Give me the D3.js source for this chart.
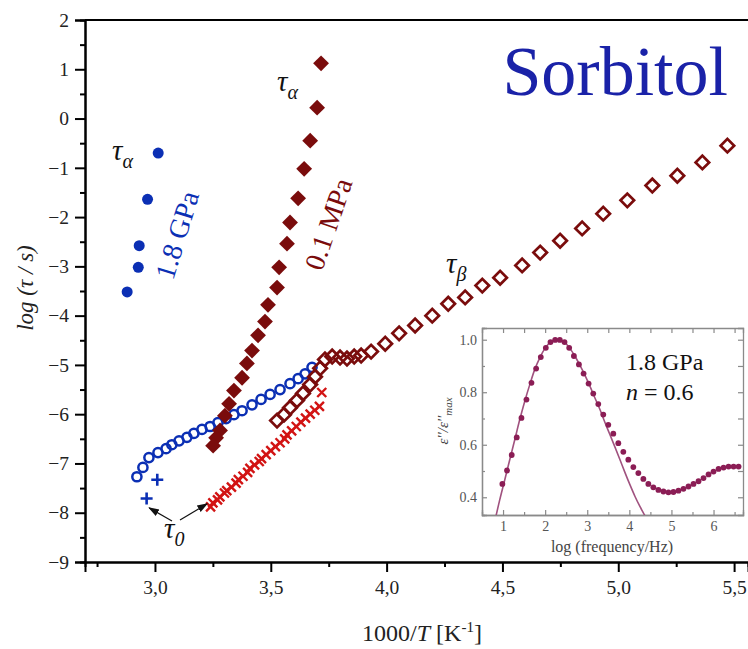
<!DOCTYPE html>
<html><head><meta charset="utf-8">
<script src="https://cdn.jsdelivr.net/npm/d3@7/dist/d3.min.js"></script>
<style>body{margin:0;background:#fff}svg{display:block}text{font-family:"Liberation Serif","Times New Roman",serif}</style>
</head><body><svg id="c" width="748" height="649"></svg>
<script>
// ---- data (x = 1000/T, y = log(tau/s)) ----
const blueAlphaX = [3.014, 2.968, 2.932, 2.928, 2.880];
const blueAlphaY = [-0.70, -1.64, -2.58, -3.02, -3.52];
const blueBetaX = [2.922,2.948,2.974,3.013,3.048,3.073,3.104,3.138,3.168,3.203,3.238,3.272,3.307,3.341,3.376,3.419,3.458,3.497,3.540,3.583,3.618,3.648,3.678];
const blueBetaY = [-7.27,-7.08,-6.88,-6.78,-6.70,-6.62,-6.54,-6.47,-6.39,-6.31,-6.25,-6.17,-6.09,-6.01,-5.93,-5.81,-5.70,-5.60,-5.50,-5.38,-5.28,-5.18,-5.05];
const blueTau0X = [3.010, 2.964];
const blueTau0Y = [-7.33, -7.71];
const redAlphaX = [3.717,3.700,3.670,3.644,3.618,3.583,3.570,3.536,3.527,3.488,3.475,3.445,3.419,3.397,3.376,3.341,3.320,3.302,3.281,3.264,3.251];
const redAlphaY = [1.12,0.22,-0.45,-1.02,-1.62,-2.11,-2.54,-3.02,-3.43,-3.78,-4.12,-4.40,-4.71,-4.97,-5.26,-5.52,-5.79,-6.03,-6.33,-6.48,-6.64];
const redBetaX = [3.527,3.557,3.583,3.613,3.639,3.670,3.691,3.713,3.734,3.765,3.799,3.829,3.860,3.890,3.933,3.994,4.054,4.123,4.197,4.266,4.339,4.413,4.490,4.585,4.663,4.749,4.844,4.935,5.039,5.147,5.255,5.363,5.471];
const redBetaY = [-6.13,-6.01,-5.87,-5.72,-5.58,-5.40,-5.24,-5.07,-4.89,-4.83,-4.85,-4.87,-4.83,-4.81,-4.73,-4.57,-4.36,-4.20,-4.00,-3.76,-3.63,-3.39,-3.23,-2.98,-2.72,-2.48,-2.23,-1.93,-1.66,-1.36,-1.16,-0.89,-0.55];
const redTau0X = [3.24,3.25,3.27,3.28,3.30,3.31,3.33,3.35,3.36,3.38,3.40,3.41,3.43,3.45,3.46,3.48,3.50,3.52,3.54,3.56,3.57,3.59,3.61,3.63,3.65,3.67,3.69,3.71,3.72];
const redTau0Y = [-7.88,-7.80,-7.74,-7.68,-7.60,-7.55,-7.48,-7.40,-7.33,-7.26,-7.18,-7.10,-7.03,-6.96,-6.90,-6.82,-6.74,-6.66,-6.58,-6.50,-6.42,-6.34,-6.25,-6.16,-6.08,-6.00,-5.92,-5.84,-5.56];
const xTicks = [3.0, 3.5, 4.0, 4.5, 5.0, 5.5];
const yTicks = [-9,-8,-7,-6,-5,-4,-3,-2,-1,0,1,2];
// inset: log(frequency/Hz) vs eps''/eps''max
const insDotX = [0.984,1.095,1.206,1.325,1.437,1.556,1.675,1.786,1.897,2.016,2.127,2.238,2.349,2.460,2.571,2.683,2.802,2.913,3.032,3.143,3.262,3.381,3.500,3.619,3.738,3.857,3.976,4.095,4.214,4.333,4.452,4.571,4.690,4.810,4.929,5.048,5.167,5.286,5.405,5.524,5.643,5.762,5.881,6.000,6.119,6.238,6.357,6.476,6.595];
const insDotY = [0.451,0.502,0.561,0.628,0.702,0.772,0.836,0.890,0.934,0.969,0.991,0.999,0.999,0.991,0.969,0.938,0.906,0.871,0.833,0.795,0.755,0.715,0.676,0.642,0.606,0.573,0.543,0.515,0.492,0.470,0.451,0.438,0.428,0.422,0.419,0.420,0.425,0.432,0.441,0.451,0.461,0.473,0.487,0.498,0.508,0.513,0.517,0.517,0.517];
const insFitX = [0.802,0.921,1.040,1.159,1.278,1.397,1.516,1.635,1.754,1.873,1.992,2.111,2.230,2.349,2.468,2.587,2.706,2.825,2.944,3.063,3.183,3.302,3.421,3.540,3.659,3.778,3.897,4.016,4.135,4.254,4.373,4.492];
const insFitY = [0.307,0.390,0.466,0.543,0.619,0.696,0.766,0.829,0.887,0.931,0.966,0.989,0.999,0.999,0.989,0.967,0.938,0.903,0.865,0.823,0.778,0.734,0.685,0.638,0.591,0.543,0.494,0.447,0.403,0.364,0.329,0.294];
const insXTicks = [1,2,3,4,5,6];
const insYTicks = [0.4,0.6,0.8,1.0];

// ---- main chart ----
const svg = d3.select("#c");
const x = d3.scaleLinear().domain([2.698, 5.56]).range([85, 748]);
const y = d3.scaleLinear().domain([-9, 2]).range([562, 20]);
const BLUE = "#0b2fb4", DRED = "#7a0c0c", RED = "#d21414";
const minus = s => s.replace("-", "\u2212");

// minor ticks
const gx = svg.append("g").attr("transform", "translate(0,562)");
gx.call(d3.axisBottom(x).tickValues(d3.range(2.75, 5.5, 0.5)).tickSize(5).tickFormat(""));
gx.append("g").call(d3.axisBottom(x).tickValues(xTicks).tickSize(10).tickPadding(8).tickFormat(d => d3.format(".1f")(d).replace(".", ",")));
const gy = svg.append("g").attr("transform", "translate(85,0)");
gy.call(d3.axisLeft(y).tickValues(d3.range(-8.5, 2, 1)).tickSize(5).tickFormat(""));
gy.append("g").call(d3.axisLeft(y).tickValues(yTicks).tickSize(10).tickPadding(6).tickFormat(d => minus(String(d))));
svg.selectAll(".domain").attr("stroke", "#000").attr("stroke-width", 2);
svg.selectAll(".tick line").attr("stroke", "#000").attr("stroke-width", 2);
svg.selectAll(".tick text").attr("font-size", 19.5).attr("fill", "#222").style("font-family", '"Liberation Serif",serif');
svg.append("line").attr("x1", 85).attr("x2", 748).attr("y1", y(2)).attr("y2", y(2)).attr("stroke", "#000").attr("stroke-width", 2);

// axis titles
const xt = svg.append("text").attr("x", 422).attr("y", 641).attr("text-anchor", "middle").attr("font-size", 24).attr("fill", "#222");
xt.append("tspan").text("1000/");
xt.append("tspan").attr("font-style", "italic").text("T");
xt.append("tspan").text(" [K");
xt.append("tspan").attr("dy", -9).attr("font-size", 15).text("-1");
xt.append("tspan").attr("dy", 9).text("]");
svg.append("text").attr("transform", "translate(33,288) rotate(-90)").attr("text-anchor", "middle")
  .attr("font-size", 23).attr("font-style", "italic").attr("fill", "#222").text("log (τ / s)");

const zip = (a, b) => a.map((v, i) => [v, b[i]]);
// open circles beta 1.8 GPa
svg.append("g").selectAll("circle").data(zip(blueBetaX, blueBetaY)).join("circle")
  .attr("cx", d => x(d[0])).attr("cy", d => y(d[1])).attr("r", 4.6)
  .attr("fill", "none").attr("stroke", BLUE).attr("stroke-width", 2.5);
// filled circles alpha 1.8 GPa
svg.append("g").selectAll("circle").data(zip(blueAlphaX, blueAlphaY)).join("circle")
  .attr("cx", d => x(d[0])).attr("cy", d => y(d[1])).attr("r", 5.5).attr("fill", BLUE);
// plus tau0 1.8 GPa
svg.append("g").selectAll("path").data(zip(blueTau0X, blueTau0Y)).join("path")
  .attr("transform", d => `translate(${x(d[0])},${y(d[1])})`)
  .attr("d", "M-6,0H6M0,-6V6").attr("fill", "none").attr("stroke", BLUE).attr("stroke-width", 2.6);
// open diamonds beta 0.1 MPa
svg.append("g").selectAll("path").data(zip(redBetaX, redBetaY)).join("path")
  .attr("transform", d => `translate(${x(d[0])},${y(d[1])}) rotate(45)`)
  .attr("d", d3.symbol(d3.symbolSquare, 92)).attr("fill", "none").attr("stroke", DRED).attr("stroke-width", 2.7);
// crosses tau0 0.1 MPa
svg.append("g").selectAll("path").data(zip(redTau0X, redTau0Y)).join("path")
  .attr("transform", d => `translate(${x(d[0])},${y(d[1])})`)
  .attr("d", "M-4.5,-4.5L4.5,4.5M-4.5,4.5L4.5,-4.5").attr("fill", "none").attr("stroke", RED).attr("stroke-width", 2.4);
// filled diamonds alpha 0.1 MPa
svg.append("g").selectAll("path").data(zip(redAlphaX, redAlphaY)).join("path")
  .attr("transform", d => `translate(${x(d[0])},${y(d[1])}) rotate(45)`)
  .attr("d", d3.symbol(d3.symbolSquare, 125)).attr("fill", DRED);

// labels
function tau(xp, yp, sub) {
  const t = svg.append("text").attr("x", xp).attr("y", yp).attr("font-size", 29).attr("fill", "#111").attr("font-style", "italic");
  t.append("tspan").text("τ");
  t.append("tspan").attr("dy", 8).attr("font-size", 20).text(sub);
}
tau(112, 160, "α");
tau(277, 91, "α");
tau(446, 273, "β");
tau(164, 538, "0");
svg.append("defs").append("marker").attr("id", "ah").attr("viewBox", "0 0 10 10").attr("refX", 9).attr("refY", 5)
  .attr("markerWidth", 9).attr("markerHeight", 9).attr("orient", "auto-start-reverse")
  .append("path").attr("d", "M0,1.5 L10,5 L0,8.5 Z").attr("fill", "#111");
svg.append("line").attr("x1", 172).attr("y1", 521).attr("x2", x(2.975)).attr("y2", y(-7.78) + 6)
  .attr("stroke", "#111").attr("stroke-width", 1.2).attr("marker-end", "url(#ah)");
svg.append("line").attr("x1", 180).attr("y1", 520).attr("x2", x(3.225)).attr("y2", y(-7.82))
  .attr("stroke", "#111").attr("stroke-width", 1.2).attr("marker-end", "url(#ah)");
svg.append("text").attr("transform", "translate(173,281) rotate(-73)").attr("font-size", 28).attr("fill", BLUE).text("1.8 GPa");
svg.append("text").attr("transform", "translate(322,272) rotate(-71)").attr("font-size", 28).attr("fill", DRED).text("0.1 MPa");
svg.append("text").attr("x", 728).attr("y", 95).attr("text-anchor", "end").attr("font-size", 70).attr("fill", "#1a22a8").text("Sorbitol");

// ---- inset ----
const IL = 482, IR = 743, IT = 328, IB = 515;
const ix = d3.scaleLinear().domain([0.50, 6.70]).range([IL, IR]);
const iy = d3.scaleLinear().domain([0.3325, 1.0446]).range([IB, IT]);
const ins = svg.append("g");
ins.append("rect").attr("x", IL).attr("y", IT).attr("width", IR - IL).attr("height", IB - IT).attr("fill", "#fff");
ins.append("clipPath").attr("id", "ic").append("rect").attr("x", IL).attr("y", IT).attr("width", IR - IL).attr("height", IB - IT);
const GR = "#8a8a8a";
const ib = ins.append("g").attr("transform", `translate(0,${IB})`);
ib.call(d3.axisBottom(ix).tickValues(d3.range(1.5, 6.6, 1)).tickSize(-3).tickFormat(""));
ib.append("g").call(d3.axisBottom(ix).tickValues(insXTicks).tickSize(-5).tickPadding(6).tickFormat(d3.format("d")));
const it = ins.append("g").attr("transform", `translate(0,${IT})`);
it.call(d3.axisTop(ix).tickValues(d3.range(1, 6.6, 0.5)).tickSize(-5).tickFormat(""));
const il = ins.append("g").attr("transform", `translate(${IL},0)`);
il.call(d3.axisLeft(iy).tickValues([0.5, 0.7, 0.9]).tickSize(-3).tickFormat(""));
il.append("g").call(d3.axisLeft(iy).tickValues(insYTicks).tickSize(-5).tickPadding(5).tickFormat(d3.format(".1f")));
const ir = ins.append("g").attr("transform", `translate(${IR},0)`);
ir.call(d3.axisRight(iy).tickValues([0.4,0.5,0.6,0.7,0.8,0.9,1.0]).tickSize(-5).tickFormat(""));
ins.selectAll(".domain").attr("stroke", GR).attr("stroke-width", 1.3);
ins.selectAll(".tick line").attr("stroke", GR).attr("stroke-width", 1.2);
ins.selectAll(".tick text").attr("font-size", 14).attr("fill", "#555").style("font-family", '"Liberation Serif",serif');
ins.append("text").attr("x", 612).attr("y", 552).attr("text-anchor", "middle").attr("font-size", 16).attr("fill", "#444").text("log (frequency/Hz)");
const yl = ins.append("text").attr("transform", "translate(448,421) rotate(-90)").attr("text-anchor", "middle")
  .attr("font-size", 15).attr("font-style", "italic").attr("fill", "#444");
yl.append("tspan").text("ε''/ε''");
yl.append("tspan").attr("dy", 4).attr("font-size", 11).text("max");
ins.append("path").datum(zip(insFitX, insFitY)).attr("clip-path", "url(#ic)")
  .attr("d", d3.line().x(d => ix(d[0])).y(d => iy(d[1])).curve(d3.curveCatmullRom))
  .attr("fill", "none").attr("stroke", "#a0527f").attr("stroke-width", 1.6);
ins.append("g").selectAll("circle").data(zip(insDotX, insDotY)).join("circle")
  .attr("cx", d => ix(d[0])).attr("cy", d => iy(d[1])).attr("r", 2.9).attr("fill", "#8b1d55");
ins.append("text").attr("x", 626).attr("y", 370).attr("font-size", 24).attr("fill", "#111").text("1.8 GPa");
const nt = ins.append("text").attr("x", 626).attr("y", 400).attr("font-size", 24).attr("fill", "#111");
nt.append("tspan").attr("font-style", "italic").text("n");
nt.append("tspan").text(" = 0.6");
</script></body></html>
